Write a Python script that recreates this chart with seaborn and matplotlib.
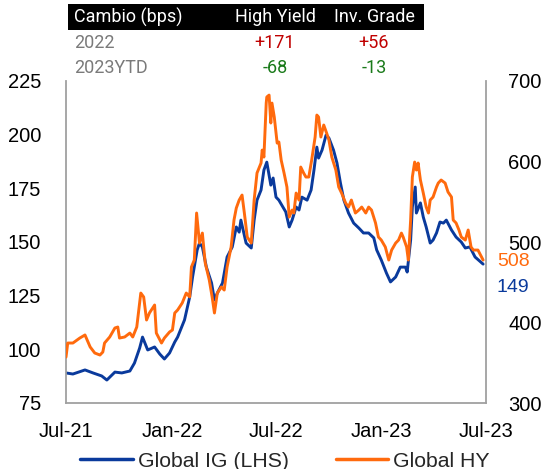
import matplotlib
matplotlib.use("Agg")
import matplotlib.pyplot as plt
import matplotlib.dates as mdates
from matplotlib.lines import Line2D
from matplotlib.patches import Rectangle
from matplotlib import font_manager
import pandas as pd
import seaborn as sns

# ---------------- data ----------------
ig_dates = ["2021-07-01", "2021-07-13", "2021-08-03", "2021-08-17", "2021-09-01", "2021-09-10",
            "2021-09-24", "2021-10-06", "2021-10-20", "2021-10-28", "2021-11-06", "2021-11-11",
            "2021-11-20", "2021-12-02", "2021-12-11", "2021-12-19", "2021-12-28", "2022-01-06",
            "2022-01-11", "2022-01-23", "2022-02-01", "2022-02-06", "2022-02-14", "2022-02-18",
            "2022-02-23", "2022-03-02", "2022-03-11", "2022-03-16", "2022-03-21", "2022-03-30",
            "2022-04-07", "2022-04-16", "2022-04-23", "2022-04-28", "2022-05-01", "2022-05-10",
            "2022-05-19", "2022-05-24", "2022-05-29", "2022-06-05", "2022-06-10", "2022-06-15",
            "2022-06-22", "2022-06-26", "2022-07-01", "2022-07-06", "2022-07-11", "2022-07-18",
            "2022-07-24", "2022-07-29", "2022-08-05", "2022-08-10", "2022-08-15", "2022-08-24",
            "2022-08-31", "2022-09-05", "2022-09-10", "2022-09-13", "2022-09-19", "2022-09-26",
            "2022-10-01", "2022-10-09", "2022-10-15", "2022-10-21", "2022-10-27", "2022-11-04",
            "2022-11-13", "2022-11-22", "2022-11-30", "2022-12-09", "2022-12-18", "2022-12-23",
            "2022-12-31", "2023-01-09", "2023-01-16", "2023-01-25", "2023-02-02", "2023-02-11",
            "2023-02-14", "2023-02-20", "2023-02-23", "2023-02-28", "2023-03-02", "2023-03-09",
            "2023-03-14", "2023-03-19", "2023-03-26", "2023-03-31", "2023-04-06", "2023-04-12",
            "2023-04-18", "2023-04-23", "2023-05-02", "2023-05-10", "2023-05-19", "2023-05-26",
            "2023-06-03", "2023-06-12", "2023-06-26"]
ig_values = [89.0, 88.5, 90.4, 89.0, 87.6, 85.7,
             89.4, 89.0, 89.9, 93.6, 100.6, 105.7,
             99.7, 101.1, 97.8, 95.5, 98.3, 103.4,
             105.7, 113.7, 124.4, 133.7, 146.3, 149.5,
             147.7, 138.3, 130.9, 123.0, 126.2, 130.9,
             143.0, 147.7, 157.0, 154.6, 160.2, 149.5,
             147.2, 160.2, 169.5, 174.2, 183.5, 187.2,
             176.5, 179.8, 170.9, 169.5, 167.2, 164.0,
             157.0, 160.2, 166.3, 164.9, 170.9, 169.5,
             174.2, 183.5, 194.2, 189.1, 192.8, 199.8,
             198.4, 192.8, 186.8, 177.5, 169.5, 163.5,
             158.8, 156.5, 154.2, 154.2, 151.9, 146.3,
             141.6, 135.5, 131.4, 133.7, 138.3, 138.3,
             136.0, 150.9, 166.3, 175.6, 163.5, 168.2,
             161.6, 157.0, 149.5, 150.9, 154.2, 159.3,
             158.8, 160.2, 155.6, 152.3, 150.0, 147.2,
             147.7, 143.0, 139.7]

hy_dates = ["2021-07-01", "2021-07-04", "2021-07-13", "2021-07-25", "2021-08-03", "2021-08-12",
            "2021-08-20", "2021-08-29", "2021-09-03", "2021-09-06", "2021-09-15", "2021-09-24",
            "2021-09-29", "2021-10-02", "2021-10-11", "2021-10-20", "2021-10-25", "2021-11-01",
            "2021-11-08", "2021-11-13", "2021-11-18", "2021-11-23", "2021-12-02", "2021-12-05",
            "2021-12-14", "2021-12-19", "2021-12-28", "2022-01-02", "2022-01-06", "2022-01-11",
            "2022-01-19", "2022-01-26", "2022-02-01", "2022-02-04", "2022-02-09", "2022-02-13",
            "2022-02-18", "2022-02-23", "2022-02-28", "2022-03-07", "2022-03-12", "2022-03-16",
            "2022-03-21", "2022-03-28", "2022-04-02", "2022-04-07", "2022-04-14", "2022-04-19",
            "2022-04-23", "2022-04-28", "2022-05-03", "2022-05-07", "2022-05-12", "2022-05-19",
            "2022-05-24", "2022-05-29", "2022-06-05", "2022-06-07", "2022-06-10", "2022-06-14",
            "2022-06-15", "2022-06-19", "2022-06-22", "2022-06-24", "2022-06-28", "2022-07-03",
            "2022-07-06", "2022-07-10", "2022-07-15", "2022-07-20", "2022-07-24", "2022-07-29",
            "2022-08-01", "2022-08-05", "2022-08-10", "2022-08-13", "2022-08-18", "2022-08-22",
            "2022-08-27", "2022-09-01", "2022-09-07", "2022-09-10", "2022-09-13", "2022-09-17",
            "2022-09-22", "2022-09-27", "2022-10-01", "2022-10-06", "2022-10-13", "2022-10-18",
            "2022-10-23", "2022-10-30", "2022-11-04", "2022-11-09", "2022-11-16", "2022-11-22",
            "2022-11-27", "2022-12-04", "2022-12-09", "2022-12-14", "2022-12-21", "2022-12-26",
            "2022-12-31", "2023-01-07", "2023-01-13", "2023-01-18", "2023-01-25", "2023-01-30",
            "2023-02-04", "2023-02-07", "2023-02-13", "2023-02-16", "2023-02-20", "2023-02-23",
            "2023-02-27", "2023-03-02", "2023-03-05", "2023-03-09", "2023-03-14", "2023-03-19",
            "2023-03-23", "2023-03-26", "2023-03-31", "2023-04-06", "2023-04-09", "2023-04-14",
            "2023-04-21", "2023-04-26", "2023-05-02", "2023-05-05", "2023-05-10", "2023-05-15",
            "2023-05-19", "2023-05-26", "2023-05-31", "2023-06-05", "2023-06-09", "2023-06-17",
            "2023-06-26"]
hy_values = [357.0, 374.5, 374.5, 380.7, 384.5, 369.6,
             362.1, 359.6, 363.3, 374.5, 382.0, 393.2,
             394.4, 380.7, 382.0, 386.9, 382.0, 394.4,
             436.6, 431.7, 403.1, 411.8, 421.7, 386.9,
             374.5, 380.7, 388.2, 390.7, 411.8, 415.5,
             424.2, 436.6, 431.7, 468.9, 477.6, 536.0,
             498.7, 511.1, 473.9, 452.8, 431.7, 411.8,
             436.6, 444.1, 440.3, 468.9, 493.8, 527.3,
             542.2, 552.1, 558.3, 536.0, 506.2, 498.7,
             552.1, 585.7, 598.1, 614.2, 605.5, 672.6,
             680.1, 682.5, 647.8, 672.6, 655.2, 622.9,
             624.2, 601.8, 585.7, 568.3, 531.0, 539.7,
             536.0, 560.8, 552.1, 593.1, 585.7, 580.7,
             580.7, 601.8, 630.4, 657.7, 655.2, 630.4,
             645.3, 635.3, 626.6, 605.5, 589.4, 568.3,
             560.8, 548.4, 543.4, 552.1, 536.0, 539.7,
             543.4, 536.0, 543.4, 539.7, 523.6, 506.2,
             502.4, 493.8, 477.6, 490.0, 498.7, 502.4,
             511.1, 506.2, 493.8, 477.6, 527.3, 580.7,
             599.3, 589.4, 598.1, 577.0, 560.8, 543.4,
             536.0, 552.1, 555.9, 568.3, 573.2, 577.0,
             573.2, 562.1, 555.9, 527.3, 523.6, 514.9,
             506.2, 502.4, 514.9, 493.8, 490.0, 490.0,
             477.6]

series_labels = ["Global IG (LHS)", "Global HY"]
last_labels = ["149", "508"]
x_ticks = ["2021-07-01", "2022-01-01", "2022-07-01", "2023-01-01", "2023-07-01"]
left_ticks = [75, 100, 125, 150, 175, 200, 225]
right_ticks = [300, 400, 500, 600, 700]

table_header = ["Cambio (bps)", "High Yield", "Inv. Grade"]
table_rows = ["2022", "2023YTD"]
table_hy = ["+171", "-68"]
table_ig = ["+56", "-13"]

# ---------------- style ----------------
BLUE = "#0a3a9c"
ORANGE = "#ff6a0d"
RED = "#c00000"
GREEN = "#1a7a1a"
GRAY_TXT = "#7a7a7a"
SPINE = "#a0a0a0"

sns.set_theme(style="white")
plt.rcParams["font.family"] = ["Liberation Sans", "DejaVu Sans"]

installed = {f.name for f in font_manager.fontManager.ttflist}
if "Liberation Sans Narrow" in installed:
    tfont = ["Liberation Sans Narrow", "DejaVu Sans"]
    tsize = 15.2
else:
    tfont = ["Roboto", "DejaVu Sans"]
    tsize = 13

W, H = 541, 469
fig = plt.figure(figsize=(W / 100, H / 100), dpi=100)
ax = fig.add_axes([66 / W, 1 - 403 / H, (486 - 66) / W, (403 - 81) / H])

ig_df = pd.DataFrame({"date": pd.to_datetime(ig_dates), "value": ig_values})
hy_df = pd.DataFrame({"date": pd.to_datetime(hy_dates), "value": hy_values})

sns.lineplot(data=ig_df, x="date", y="value", ax=ax, color=BLUE, linewidth=2.1)
ax2 = ax.twinx()
sns.lineplot(data=hy_df, x="date", y="value", ax=ax2, color=ORANGE, linewidth=2.1)

ax.set_xlim(pd.Timestamp(x_ticks[0]), pd.Timestamp(x_ticks[-1]))
ax.set_ylim(left_ticks[0], left_ticks[-1])
ax2.set_ylim(right_ticks[0], right_ticks[-1])
ax.set_yticks(left_ticks)
ax2.set_yticks(right_ticks)
ax.set_xticks(pd.to_datetime(x_ticks))
ax.xaxis.set_major_formatter(mdates.DateFormatter("%b-%y"))

for a in (ax, ax2):
    a.set_xlabel("")
    a.set_ylabel("")
    a.grid(False)
    for s in a.spines.values():
        s.set_visible(False)
ax.spines["left"].set_visible(True)
ax.spines["bottom"].set_visible(True)
ax2.spines["right"].set_visible(True)
for s in (ax.spines["left"], ax.spines["bottom"], ax2.spines["right"]):
    s.set_color(SPINE)
    s.set_linewidth(1.3)

ax.tick_params(axis="y", length=0, pad=18, labelsize=14.5, colors="black")
ax.tick_params(axis="x", length=0, pad=14, labelsize=14.5, colors="black")
ax2.tick_params(axis="y", length=0, pad=16, labelsize=14.5, colors="black")

# end-value labels
fig.text(497 / W, 1 - 261 / H, last_labels[1], color=ORANGE, fontsize=14, va="center", ha="left")
fig.text(497 / W, 1 - 287 / H, last_labels[0], color=BLUE, fontsize=14, va="center", ha="left")

# legend
handles = [Line2D([], [], color=BLUE, lw=2.5), Line2D([], [], color=ORANGE, lw=2.5)]
fig.legend(handles, series_labels, loc="center", bbox_to_anchor=(285 / W, 1 - 461 / H), ncol=2,
           frameon=False, fontsize=15.3, handlelength=2.45, handletextpad=0.25, columnspacing=2.2,
           borderaxespad=0)

# table
fig.patches.append(Rectangle((68 / W, 1 - 30 / H), (424 - 68) / W, 26 / H,
                             transform=fig.transFigure, facecolor="black", edgecolor="none"))
fig.text(74 / W, 1 - 17 / H, table_header[0], color="white", fontsize=tsize, va="center", ha="left", family=tfont)
fig.text(275 / W, 1 - 17 / H, table_header[1], color="white", fontsize=tsize, va="center", ha="center", family=tfont)
fig.text(374 / W, 1 - 17 / H, table_header[2], color="white", fontsize=tsize, va="center", ha="center", family=tfont)
row_y = [43, 68]
for i, r in enumerate(table_rows):
    y = 1 - row_y[i] / H
    fig.text(74 / W, y, r, color=GRAY_TXT, fontsize=tsize, va="center", ha="left", family=tfont)
    hy_col = RED if table_hy[i].startswith("+") else GREEN
    ig_col = RED if table_ig[i].startswith("+") else GREEN
    fig.text(275 / W, y, table_hy[i], color=hy_col, fontsize=tsize, va="center", ha="center", family=tfont)
    fig.text(374 / W, y, table_ig[i], color=ig_col, fontsize=tsize, va="center", ha="center", family=tfont)

fig.savefig("out.png", dpi=100)
